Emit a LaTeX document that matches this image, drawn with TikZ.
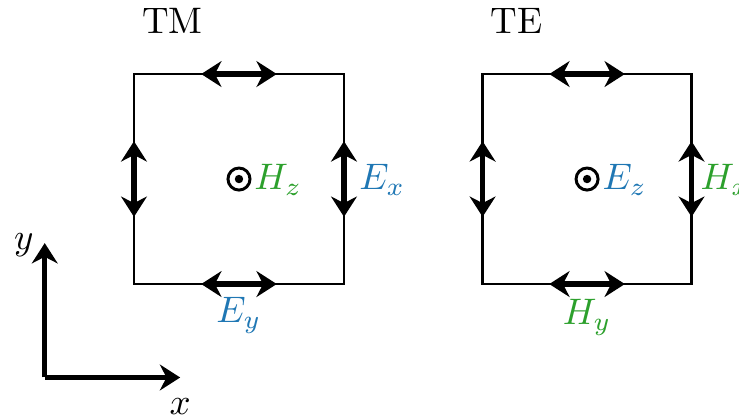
\documentclass[tikz,border=0pt]{standalone}
\usepackage{amsmath}
\usetikzlibrary{arrows.meta}
\definecolor{fieldblue}{RGB}{31,119,180}
\definecolor{fieldgreen}{RGB}{44,160,44}

\begin{document}
\begin{tikzpicture}[>={Stealth[length=5.5pt, width=7pt]}, dbl/.style={<->, line width=1.4pt}, box/.style={line width=0.6pt}, lbl/.style={anchor=base west, inner sep=0pt}, odot/.style={draw, circle, line width=0.8pt, minimum size=2.1mm, inner sep=0pt, path picture={\fill (path picture bounding box.center) circle (0.4mm);}}]
	\useasboundingbox (-1.276,-1.276) rectangle (5.762,2.705);
	% TM cell
	\node[lbl] (TM) at (0.07,2.39) {TM};
	\draw[box] (0,0) rectangle (2,2);
	\draw[dbl] (0.64,2) -- (1.36,2); \draw[dbl] (0.64,0) -- (1.36,0); \draw[dbl] (0,0.64) -- (0,1.36); \draw[dbl] (2,0.64) -- (2,1.36);
	\node[odot] (c1) at (1,1) {};
	\node[lbl, fieldgreen] (Hz) at (1.14,0.9) {$H_z$};
	\node[lbl, fieldblue] (Ex) at (2.14,0.9) {$E_x$};
	\node[anchor=base, inner sep=0pt, fieldblue] (Ey) at (1,-0.37) {$E_y$};
	% TE cell
	\node[lbl] (TE) at (3.39,2.39) {TE};
	\draw[box] (3.32,0) rectangle (5.31,2);
	\draw[dbl] (3.955,2) -- (4.675,2); \draw[dbl] (3.955,0) -- (4.675,0); \draw[dbl] (3.32,0.64) -- (3.32,1.36); \draw[dbl] (5.31,0.64) -- (5.31,1.36);
	\node[odot] (c2) at (4.315,1) {};
	\node[lbl, fieldblue] (Ez) at (4.455,0.9) {$E_z$};
	\node[lbl, fieldgreen] (Hx) at (5.39,0.9) {$H_x$};
	\node[anchor=base, inner sep=0pt, fieldgreen] (Hy) at (4.315,-0.39) {$H_y$};
	% axes
	\coordinate (O) at (-0.85,-0.89); \coordinate (xend) at (0.44,-0.89); \coordinate (yend) at (-0.85,0.39);
	\draw[->, line width=1.4pt] (O) -- (xend); \draw[->, line width=1.4pt] (O) -- (yend);
	\node (xlab) at (0.44,-1.17) {$x$};
	\node (ylab) at (-1.05,0.37) {$y$};
\end{tikzpicture}
\end{document}
